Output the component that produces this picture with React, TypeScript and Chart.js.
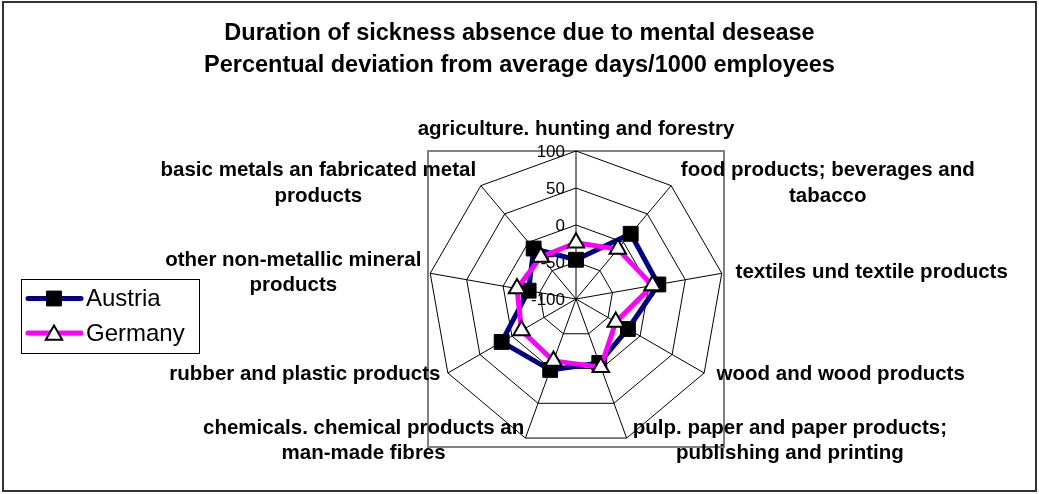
import React, { useEffect, useRef } from "react";
import { Chart, registerables } from "chart.js";

Chart.register(...registerables);

// ---- data ----
const categories: string[][] = [
  ["agriculture. hunting and forestry"],
  ["food products; beverages and", "tabacco"],
  ["textiles und textile products"],
  ["wood and wood products"],
  ["pulp. paper and paper products;", "publishing and printing"],
  ["chemicals. chemical products an", "man-made fibres"],
  ["rubber and plastic products"],
  ["other non-metallic mineral", "products"],
  ["basic metals an fabricated metal", "products"],
];
const austria: number[] = [-47, 15, 13, -19, -8, 2, 16, -35, -11];
const germany: number[] = [-24, -12, 5, -38, -2, -11, -15, -19, -26];
const seriesNames: string[] = ["Austria", "Germany"];
const titleLines: string[] = [
  "Duration of sickness absence due to mental desease",
  "Percentual deviation from average days/1000 employees",
];
const scaleMin = -100;
const scaleMax = 100;
const scaleStep = 50;

// ---- layout / style ----
const FONT = "'Liberation Sans', Arial, Helvetica, sans-serif";
const W = 1039;
const H = 494;
const PLOT = { cx: 576, cy: 299, r: 148 };

function drawMarker(ctx: CanvasRenderingContext2D, style: string, x: number, y: number, r: number, fill: string, stroke: string, bw: number) {
  ctx.save();
  ctx.beginPath();
  if (style === "rect") {
    const s = r * Math.SQRT1_2;
    ctx.rect(x - s, y - s, 2 * s, 2 * s);
  } else {
    let rad = 0;
    ctx.moveTo(x + Math.sin(rad) * r, y - Math.cos(rad) * r);
    rad += (2 * Math.PI) / 3;
    ctx.lineTo(x + Math.sin(rad) * r, y - Math.cos(rad) * r);
    rad += (2 * Math.PI) / 3;
    ctx.lineTo(x + Math.sin(rad) * r, y - Math.cos(rad) * r);
    ctx.closePath();
  }
  ctx.fillStyle = fill;
  ctx.fill();
  ctx.lineWidth = bw;
  ctx.strokeStyle = stroke;
  ctx.stroke();
  ctx.restore();
}

const decorPlugin = {
  id: "decor",
  beforeDraw(chart: any) {
    const ctx: CanvasRenderingContext2D = chart.ctx;
    const s = chart.scales.r;
    ctx.save();
    ctx.fillStyle = "#ffffff";
    ctx.fillRect(0, 0, chart.width, chart.height);
    ctx.strokeStyle = "#333333";
    ctx.lineWidth = 2;
    ctx.strokeRect(3, 2, chart.width - 6, chart.height - 5);
    ctx.strokeStyle = "#808080";
    ctx.lineWidth = 2;
    ctx.strokeRect(s.xCenter - s.drawingArea, s.yCenter - s.drawingArea, 2 * s.drawingArea, 2 * s.drawingArea);
    ctx.restore();
  },
  beforeDatasetsDraw(chart: any) {
    const ctx: CanvasRenderingContext2D = chart.ctx;
    const s = chart.scales.r;
    ctx.save();
    ctx.font = `17px ${FONT}`;
    ctx.fillStyle = "#000";
    ctx.textAlign = "right";
    ctx.textBaseline = "middle";
    s.ticks.forEach((t: any) => {
      const d = s.getDistanceFromCenterForValue(t.value);
      ctx.fillText(String(t.label), s.xCenter - 11, s.yCenter - d + 1);
    });
    ctx.restore();
  },
  afterDraw(chart: any) {
    const ctx: CanvasRenderingContext2D = chart.ctx;
    const s = chart.scales.r;
    // point labels
    ctx.save();
    ctx.font = `bold 20.5px ${FONT}`;
    ctx.fillStyle = "#000";
    ctx.textAlign = "center";
    const lineH = 25.7;
    const labels: string[][] = chart.data.labels;
    labels.forEach((lines, i) => {
      const p = s.getPointPosition(i, s.drawingArea + 12);
      const dx = p.x - s.xCenter;
      const dy = p.y - s.yCenter;
      const ax = p.x + (dx > 0 ? 2 : 3);
      const ay = s.yCenter + dy * 0.944;
      const bw = Math.max(...lines.map((l) => ctx.measureText(l).width));
      if (Math.abs(dx) < 1) {
        ctx.textBaseline = "alphabetic";
        lines.forEach((l, k) => {
          ctx.fillText(l, s.xCenter, ay - 13 - (lines.length - 1 - k) * lineH);
        });
        return;
      }
      const bx = dx > 0 ? ax + bw / 2 : ax - bw / 2;
      ctx.textBaseline = "middle";
      lines.forEach((l, k) => {
        ctx.fillText(l, bx, ay + (k - (lines.length - 1) / 2) * lineH);
      });
    });
    ctx.restore();

    // legend
    const lx = 21, ly = 279, lw = 178, lh = 74;
    ctx.save();
    ctx.strokeStyle = "#000";
    ctx.lineWidth = 1;
    ctx.strokeRect(lx + 0.5, ly + 0.5, lw, lh);
    ctx.font = `24px ${FONT}`;
    ctx.textAlign = "left";
    ctx.textBaseline = "middle";
    chart.data.datasets.forEach((ds: any, i: number) => {
      const y = ly + 19.5 + i * 34.5;
      ctx.save();
      ctx.strokeStyle = ds.borderColor;
      ctx.lineWidth = ds.borderWidth;
      ctx.lineCap = "round";
      ctx.beginPath();
      ctx.moveTo(lx + 7, y);
      ctx.lineTo(lx + 60, y);
      ctx.stroke();
      ctx.restore();
      drawMarker(ctx, ds.pointStyle, lx + 33, y + (ds.pointStyle === "triangle" ? 2 : 0), ds.pointRadius, ds.pointBackgroundColor, ds.pointBorderColor, ds.pointBorderWidth);
      ctx.fillStyle = "#000";
      ctx.fillText(ds.label, lx + 65, y + 1);
    });
    ctx.restore();
  },
};

export default function App() {
  const ref = useRef<HTMLCanvasElement | null>(null);
  useEffect(() => {
    if (!ref.current) return;
    const chart = new Chart(ref.current, {
      type: "radar",
      data: {
        labels: categories,
        datasets: [
          {
            label: seriesNames[0],
            data: austria,
            borderColor: "#000080",
            borderWidth: 5,
            borderJoinStyle: "round",
            fill: false,
            pointStyle: "rect",
            pointRadius: 10.5,
            pointBackgroundColor: "#000000",
            pointBorderColor: "#000000",
            pointBorderWidth: 1,
            order: 1,
          },
          {
            label: seriesNames[1],
            data: germany,
            borderColor: "#FF00FF",
            borderWidth: 5,
            borderJoinStyle: "round",
            fill: false,
            pointStyle: "triangle",
            pointRadius: 9.5,
            pointBackgroundColor: "#FFFFFF",
            pointBorderColor: "#000000",
            pointBorderWidth: 2,
            order: 0,
          },
        ] as any,
      },
      options: {
        responsive: false,
        animation: false,
        events: [],
        layout: { padding: 0 },
        elements: { line: { tension: 0 } },
        plugins: {
          legend: { display: false },
          tooltip: { enabled: false },
          title: {
            display: true,
            text: titleLines,
            color: "#000",
            font: { family: FONT, size: 23.5, weight: "bold", lineHeight: 1.36 },
            padding: { top: 18, bottom: 10 },
          },
        },
        scales: {
          r: {
            min: scaleMin,
            max: scaleMax,
            ticks: { stepSize: scaleStep, display: false },
            grid: { color: "#000", lineWidth: 1, circular: false },
            angleLines: { color: "#000", lineWidth: 1 },
            pointLabels: { display: false },
            afterFit: (scale: any) => {
              scale.xCenter = PLOT.cx;
              scale.yCenter = PLOT.cy;
              scale.drawingArea = PLOT.r;
            },
          },
        },
      } as any,
      plugins: [decorPlugin],
    });
    return () => chart.destroy();
  }, []);
  return (
    <div style={{ position: "absolute", left: 0, top: 0, width: W, height: H }}>
      <canvas ref={ref} width={W} height={H} style={{ display: "block" }} />
    </div>
  );
}
